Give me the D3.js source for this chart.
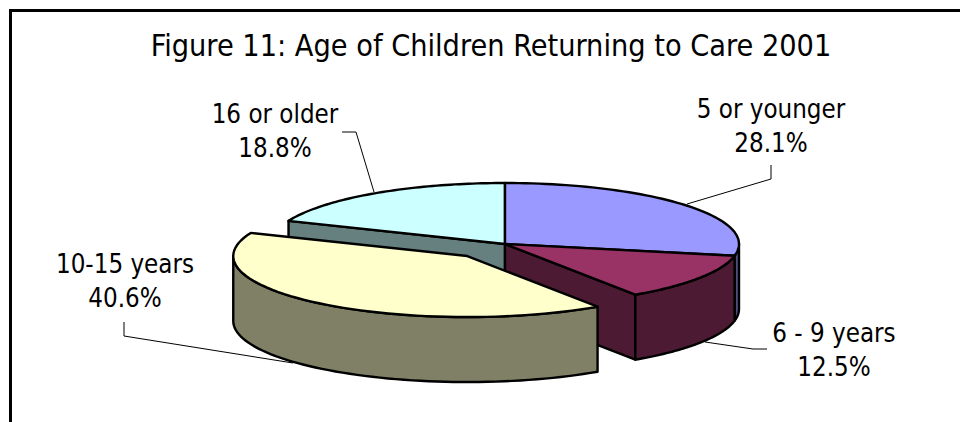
<!DOCTYPE html>
<html>
<head>
  <style>
  html, body { margin: 0; padding: 0; background: #fff; }
  #chart text {
    fill: #000;
    font-family: "DejaVu Sans Condensed", "DejaVu Sans", sans-serif;
    text-anchor: middle;
  }
  .edge { stroke: #000; stroke-width: 2.4; stroke-linejoin: round; }
  .leader { fill: none; stroke: #000; stroke-width: 1; }
  </style>
  <script src="https://d3js.org/d3.v7.min.js"></script>
</head>
<body>
  <svg id="chart"></svg>
  <script>

  var categories = ["5 or younger", "6 - 9 years", "10-15 years", "16 or older"];
  var values = [28.1, 12.5, 40.6, 18.8];
  var valueLabels = ["28.1%", "12.5%", "40.6%", "18.8%"];
  var topColors = ["#9999ff", "#993366", "#ffffcc", "#ccffff"];
  var sideColors = ["#4d4d80", "#4d1a33", "#808066", "#668080"];
  var exploded = [0, 0, 0.255, 0];

  var width = 960,
      height = 422;

  var cx = 505, cy = 244, rx = 234, ry = 61, depth = 65;

  var svg = d3.select("#chart")
      .attr("width", width)
      .attr("height", height)
      .style("display", "block");

  // frame runs off the right and bottom of the picture
  svg.append("path")
      .attr("d", "M10.5,422V10.5H960")
      .attr("fill", "none")
      .attr("stroke", "#000")
      .attr("stroke-width", 3);

  svg.append("text")
      .attr("x", 491)
      .attr("y", 56)
      .style("font-size", "30.3px")
      .text("Figure 11: Age of Children Returning to Care 2001");

  var slices = d3.pie().sort(null)(values);

  // angle -> point on the tilted pie, 0 at top going clockwise
  function project(s, a, drop) {
    var k = exploded[s.index];
    var mid = (s.startAngle + s.endAngle) / 2;
    return [
      cx + rx * (k * Math.sin(mid) + Math.sin(a)),
      cy - ry * (k * Math.cos(mid) + Math.cos(a)) + (drop || 0)
    ];
  }

  function arcPoints(s, a0, a1, drop) {
    return d3.range(0, 61).map(function(i) {
      return project(s, a0 + (a1 - a0) * i / 60, drop);
    });
  }

  function centre(s, drop) {
    var k = exploded[s.index];
    var mid = (s.startAngle + s.endAngle) / 2;
    return [cx + rx * k * Math.sin(mid), cy - ry * k * Math.cos(mid) + (drop || 0)];
  }

  var line = d3.line();

  function shape(points, fill) {
    svg.append("path")
        .attr("class", "edge")
        .attr("d", line(points) + "Z")
        .attr("fill", fill);
  }

  function topFace(s) {
    shape([centre(s)].concat(arcPoints(s, s.startAngle, s.endAngle)), topColors[s.index]);
  }

  // outer wall, only the front half of the ellipse shows
  function wall(s) {
    var a0 = Math.max(s.startAngle, Math.PI / 2),
        a1 = Math.min(s.endAngle, 3 * Math.PI / 2);
    if (a0 >= a1) return;
    shape(arcPoints(s, a0, a1).concat(arcPoints(s, a1, a0, depth)), sideColors[s.index]);
  }

  // flat cut running from the centre out to angle a
  function cut(s, a) {
    shape([centre(s), project(s, a), project(s, a, depth), centre(s, depth)], sideColors[s.index]);
  }

  var older = slices[3], young = slices[0], middle = slices[1], teens = slices[2];

  // leader lines go under the pie
  var leaders = [
    [[771, 165], [771, 179], [687, 204]],
    [[705, 342], [753, 349], [767, 349]],
    [[124, 322], [124, 336], [293, 363]],
    [[342, 132], [356, 132], [374, 192]]
  ];

  leaders.forEach(function(d) {
    svg.append("path").attr("class", "leader").attr("d", line(d));
  });

  cut(older, older.startAngle);
  topFace(older);
  wall(young);
  topFace(young);
  cut(middle, middle.endAngle);
  wall(middle);
  topFace(middle);
  wall(teens);
  topFace(teens);

  var labelX = [771, 834, 125, 275];
  var labelY = [118, 342, 273, 123];

  categories.forEach(function(name, i) {
    var t = svg.append("text").style("font-size", "25.7px");
    t.append("tspan").attr("x", labelX[i]).attr("y", labelY[i]).text(name);
    t.append("tspan").attr("x", labelX[i]).attr("y", labelY[i] + 34).text(valueLabels[i]);
  });

  </script>
</body>
</html>
